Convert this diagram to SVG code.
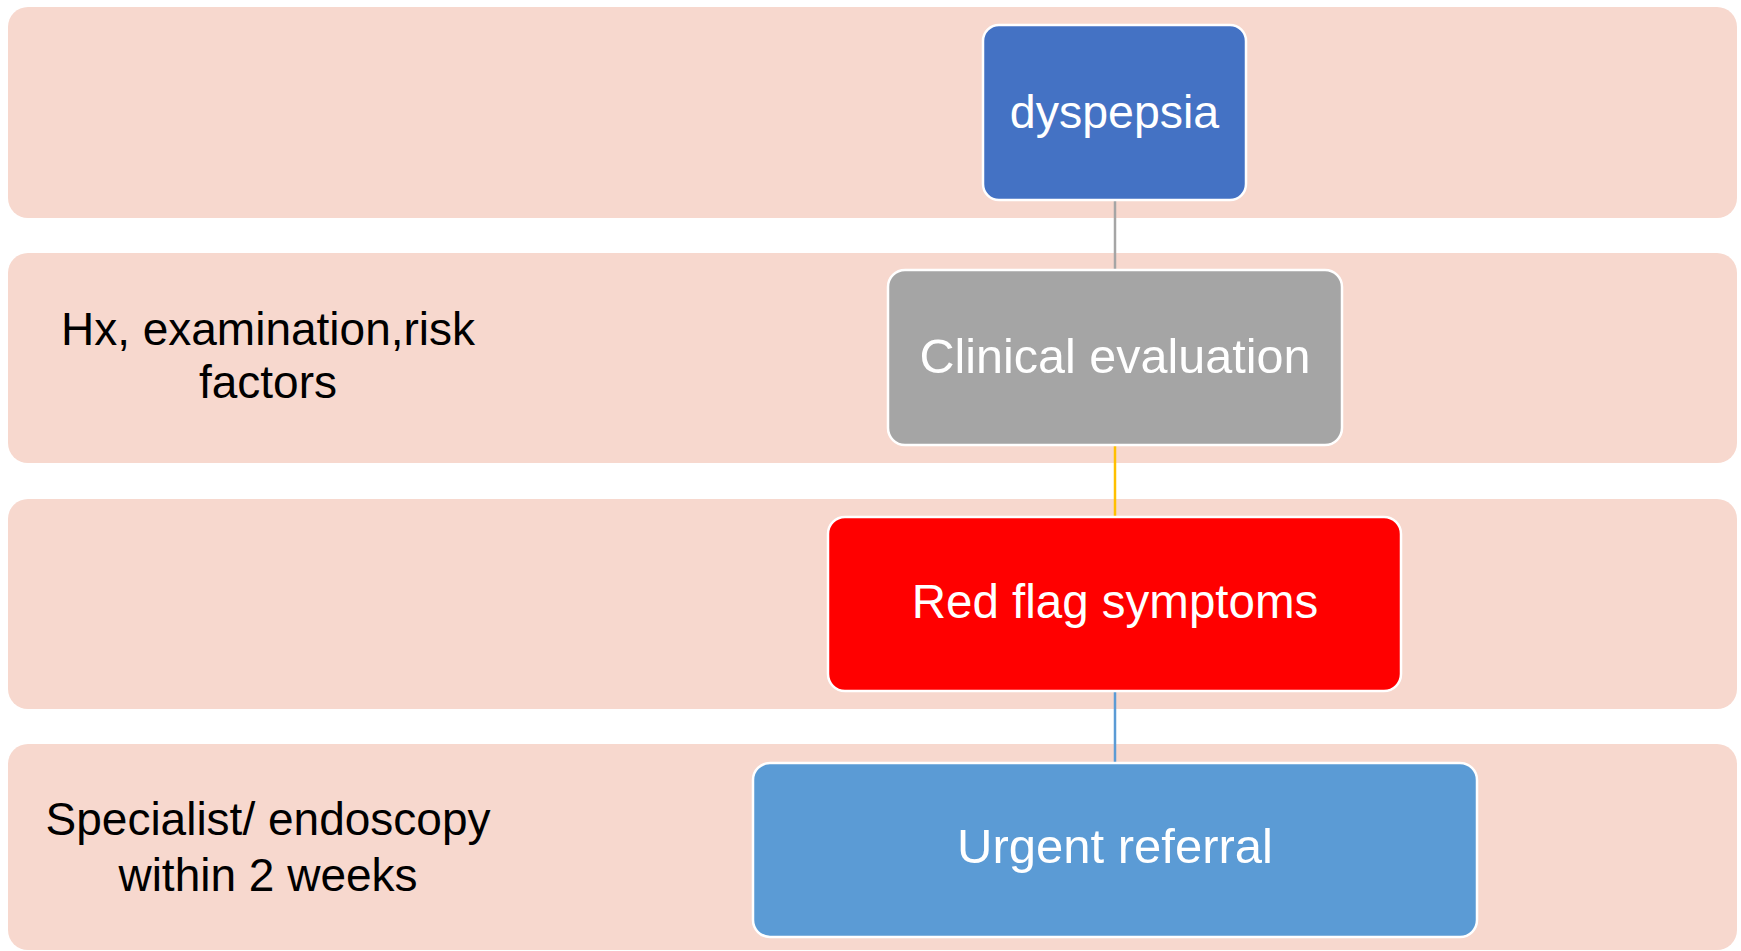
<svg xmlns="http://www.w3.org/2000/svg" width="1741" height="951" viewBox="0 0 1741 951">
<style>
.band{fill:#F7D8CE}
.node{stroke:#FFFFFF;stroke-width:2.5}
.nt{font-family:"Liberation Sans",Arial,sans-serif;fill:#FFFFFF;text-anchor:middle}
.lt{font-family:"Liberation Sans",Arial,sans-serif;font-size:46px;fill:#000000;text-anchor:middle}
.conn{stroke-width:2.5;fill:none}
</style>
<rect width="1741" height="951" fill="#FFFFFF"/>
<g id="bands">
<rect class="band" x="8" y="7" width="1729" height="211" rx="20"/>
<rect class="band" x="8" y="253" width="1729" height="210" rx="20"/>
<rect class="band" x="8" y="499" width="1729" height="210" rx="20"/>
<rect class="band" x="8" y="744" width="1729" height="206" rx="20"/>
</g>
<g id="labels">
<text class="lt" x="268" y="345">Hx, examination,risk</text>
<text class="lt" x="268" y="398">factors</text>
<text class="lt" x="268" y="835">Specialist/ endoscopy</text>
<text class="lt" x="268" y="891">within 2 weeks</text>
</g>
<g id="connectors">
<line class="conn" x1="1115" y1="200" x2="1115" y2="270" stroke="#A5A5A5"/>
<line class="conn" x1="1115" y1="445" x2="1115" y2="517" stroke="#FFC000"/>
<line class="conn" x1="1115" y1="691" x2="1115" y2="763" stroke="#5B9BD5"/>
</g>
<g id="node-dyspepsia">
<rect class="node" x="983" y="25" width="263" height="175" rx="16" fill="#4472C4"/>
<text class="nt" x="1114.5" y="128" font-size="46.5">dyspepsia</text>
</g>
<g id="node-clinical">
<rect class="node" x="888" y="270" width="454" height="175" rx="17" fill="#A5A5A5"/>
<text class="nt" x="1115" y="373" font-size="48.5">Clinical evaluation</text>
</g>
<g id="node-redflag">
<rect class="node" x="828" y="517" width="573" height="174" rx="17" fill="#FF0000"/>
<text class="nt" x="1115" y="618" font-size="47.5">Red flag symptoms</text>
</g>
<g id="node-urgent">
<rect class="node" x="753" y="763" width="724" height="174" rx="17" fill="#5B9BD5"/>
<text class="nt" x="1115" y="863" font-size="49">Urgent referral</text>
</g>
</svg>
